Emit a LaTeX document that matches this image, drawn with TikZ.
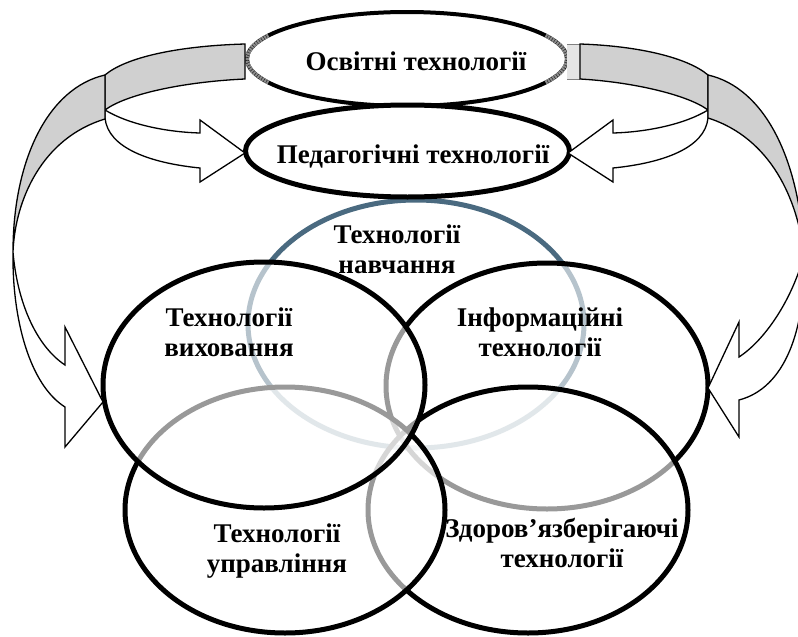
\documentclass[tikz,border=0pt]{standalone}
\usepackage{fontspec}
\setmainfont{Liberation Serif}
\usetikzlibrary{shapes.geometric}
\definecolor{slate}{HTML}{4A6A80}
\definecolor{bandgray}{HTML}{D0D0D0}
\begin{document}
\begin{tikzpicture}[x=1pt,y=-1pt,
  oval/.style={ellipse, inner sep=0pt, outer sep=0pt},
  vennoval/.style={oval, draw=black, line width=5pt, fill=white, fill opacity=0.6},
  lbl/.style={align=center, inner sep=0pt, font=\fontsize{27}{30}\selectfont\bfseries},
  band/.style={draw=black, line width=1.3pt, line join=miter},
  bandback/.style={band, fill=bandgray},
  bandfront/.style={band, fill=white},
  fadearc/.style={draw=black!45, line width=4pt, dash pattern=on 2pt off 0.7pt}]
\useasboundingbox (0,0) rectangle (798,637);
\clip (0,0) rectangle (798,637);
% Venn ellipses
\node[oval, draw=slate, line width=5pt, minimum width=336pt, minimum height=248pt] (navch) at (416,324) {};
\node[vennoval, minimum width=322pt, minimum height=246pt] (inform) at (547,386) {};
\node[vennoval, minimum width=320pt, minimum height=246pt] (zdor) at (528,510) {};
\node[vennoval, minimum width=320pt, minimum height=246pt] (uprav) at (285,510) {};
\node[vennoval, minimum width=322pt, minimum height=246pt] (vykh) at (264,385) {};
% top ellipses
\node[oval, draw=black, line width=4pt, fill=white, minimum width=320pt, minimum height=94pt] (osv) at (407,59) {};
\node[oval, draw=black, line width=5pt, fill=white, minimum width=324pt, minimum height=92pt] (ped) at (407.5,151) {};
\draw[fadearc] (268.4,35.5) arc[start angle=150, end angle=210, x radius=160pt, y radius=47pt];
\draw[fadearc] (545.6,82.5) arc[start angle=-30, end angle=30, x radius=160pt, y radius=47pt];
% arrow 1 (small left)
\draw[bandback] (245,44) .. controls (175,46) and (125,58) .. (105,75) -- (105,110) .. controls (125,95) and (180,82) .. (245,79) -- cycle;
\draw[bandfront] (105,110) .. controls (128,124) and (165,132) .. (200,133) -- (200,120) -- (245,153) -- (200,182) -- (200,168) .. controls (150,163) and (108,148) .. (105,118) -- cycle;
% arrow 2 (big left)
\draw[bandback] (105,75) .. controls (48,88) and (13,160) .. (13,252) .. controls (15,200) and (42,138) .. (105,119) -- cycle;
\draw[bandfront] (13,252) .. controls (12,320) and (30,385) .. (65,407) -- (65,447) -- (103,402) -- (65,327) -- (65,365) .. controls (35,345) and (17,300) .. (13,252) -- cycle;
% arrow 3 (small right)
\fill[black!10] (567,44) rectangle (580,79);
\draw[black!50, line width=1pt] (567,44) -- (580,44) (567,79) -- (580,79);
\draw[bandback] (580,44) .. controls (640,46) and (688,58) .. (708,75) -- (708,110) .. controls (688,95) and (633,82) .. (580,79) -- cycle;
\draw[bandfront] (708,110) .. controls (685,124) and (648,132) .. (613,133) -- (613,120) -- (568,153) -- (613,182) -- (613,168) .. controls (663,163) and (705,148) .. (708,118) -- cycle;
% arrow 4 (big right)
\draw[bandback] (708,75) .. controls (765,88) and (800,160) .. (804,255) .. controls (798,200) and (771,138) .. (708,118) -- cycle;
\draw[bandfront] (804,255) .. controls (806,330) and (785,388) .. (739,400) -- (739,437) -- (708,388) -- (739,322) -- (739,357) .. controls (765,340) and (792,300) .. (804,255) -- cycle;
% labels
\node[lbl] (tOsv) at (416,64) {\strut Освітні технології};
\node[lbl] (tPed) at (413,157) {\strut Педагогічні технології};
\node[lbl] (tNav) at (397,252) {\strut Технології\\\strut навчання};
\node[lbl] (tVykh) at (229,335) {\strut Технології\\\strut виховання};
\node[lbl] (tInf) at (540,335) {\strut Інформаційні\\\strut технології};
\node[lbl] (tUpr) at (277,551) {\strut Технології\\\strut управління};
\node[lbl] (tZd) at (562,546) {\strut Здоров’язберігаючі\\\strut технології};
\end{tikzpicture}
\end{document}
